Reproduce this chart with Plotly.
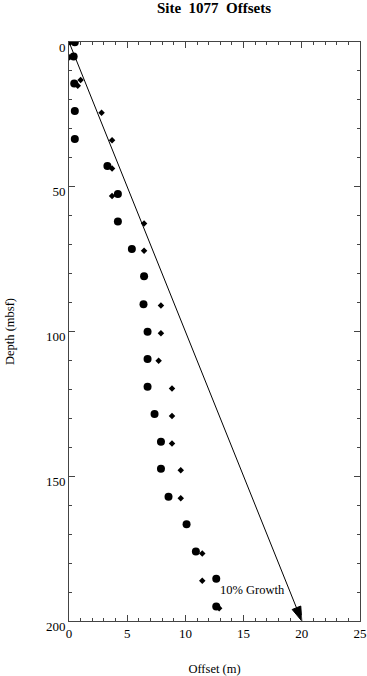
import plotly.graph_objects as go

# Circles series
circle_offset = [0.5, 0.4, 0.45, 0.5, 0.5, 3.3, 4.2, 4.2, 5.4, 6.45, 6.4, 6.75, 6.75, 6.75,
                 7.35, 7.9, 7.9, 8.55, 10.1, 10.9, 12.65, 12.65]
circle_depth = [0.1, 5.0, 14.3, 23.8, 33.5, 42.8, 52.5, 62.0, 71.5, 80.9, 90.6, 100.1, 109.5, 119.1,
                128.5, 138.1, 147.4, 157.1, 166.6, 176.0, 185.4, 195.0]

# Diamonds series
diamond_offset = [0.1, 0.05, 1.0, 0.75, 2.8, 3.7, 3.7, 3.7, 6.45, 6.45, 7.9, 7.9, 7.7, 8.85,
                  8.85, 8.85, 9.6, 9.6, 11.45, 11.45, 12.9]
diamond_depth = [0.2, 5.3, 13.1, 15.1, 24.4, 33.9, 43.7, 53.2, 62.7, 72.1, 91.0, 100.6, 110.1, 119.7,
                 129.2, 138.7, 147.9, 157.6, 176.7, 186.1, 195.6]

# 10% growth reference line
growth_offset = [0, 20]
growth_depth = [0, 200]
growth_label = "10% Growth"
growth_label_pos = (15.8, 189.4)

x_ticks = [0, 5, 10, 15, 20, 25]
y_ticks = [0, 50, 100, 150, 200]

FONT = "Liberation Serif, Times New Roman, serif"
AX = "#444444"

fig = go.Figure()

fig.add_trace(go.Scatter(
    x=growth_offset, y=growth_depth, mode="lines+markers",
    line=dict(color="black", width=1),
    marker=dict(symbol=["circle", "arrow"], size=[0, 15], color="black", opacity=1,
                angleref="previous", line=dict(width=1, color="black")),
    showlegend=False, hoverinfo="skip"))

fig.add_trace(go.Scatter(
    x=diamond_offset, y=diamond_depth, mode="markers",
    marker=dict(symbol="diamond", size=5, color="black", line=dict(width=0)),
    showlegend=False))

fig.add_trace(go.Scatter(
    x=circle_offset, y=circle_depth, mode="markers",
    marker=dict(symbol="circle", size=8, color="black", line=dict(width=0)),
    showlegend=False))

fig.add_annotation(x=growth_label_pos[0], y=growth_label_pos[1], text=growth_label,
                   showarrow=False, font=dict(family=FONT, size=12.5, color="black"),
                   xanchor="center", yanchor="middle")

fig.update_layout(
    width=367, height=676,
    margin=dict(l=69, r=7, t=42, b=55, pad=0, autoexpand=False),
    paper_bgcolor="white", plot_bgcolor="white",
    font=dict(family=FONT, size=12, color="black"),
    title=dict(text="Site\u00a0\u00a01077\u00a0\u00a0Offsets", x=0.583, xanchor="center",
               y=0.997, yanchor="top",
               font=dict(family=FONT, size=15, color="black", weight="bold")),
)

fig.update_xaxes(
    range=[0, 25], tickvals=x_ticks, ticktext=[str(v) for v in x_ticks],
    showgrid=False, zeroline=False, automargin=False,
    showline=True, linecolor=AX, linewidth=1, mirror="ticks",
    ticks="inside", ticklen=6, tickwidth=1, tickcolor=AX,
    minor=dict(dtick=1, ticks="inside", ticklen=3, tickwidth=1, tickcolor=AX, showgrid=False),
    tickfont=dict(family=FONT, size=13, color="black"),
    title=dict(text="Offset (m)", font=dict(family=FONT, size=12.5, color="black"), standoff=26),
)

fig.update_yaxes(
    range=[200, 0], tickvals=y_ticks, ticktext=[str(v) for v in y_ticks],
    showgrid=False, zeroline=False, automargin=False,
    showline=True, linecolor=AX, linewidth=1, mirror="ticks",
    ticks="inside", ticklen=6, tickwidth=1, tickcolor=AX,
    minor=dict(dtick=10, ticks="inside", ticklen=3, tickwidth=1, tickcolor=AX, showgrid=False),
    tickfont=dict(family=FONT, size=13, color="black"),
    ticklabelshift=-5,
    title=dict(text="Depth (mbsf)", font=dict(family=FONT, size=12.5, color="black"), standoff=28),
)

fig.write_html("out.html", config={"displayModeBar": False},
               post_script="document.body.style.margin='0';document.body.style.padding='0';")
